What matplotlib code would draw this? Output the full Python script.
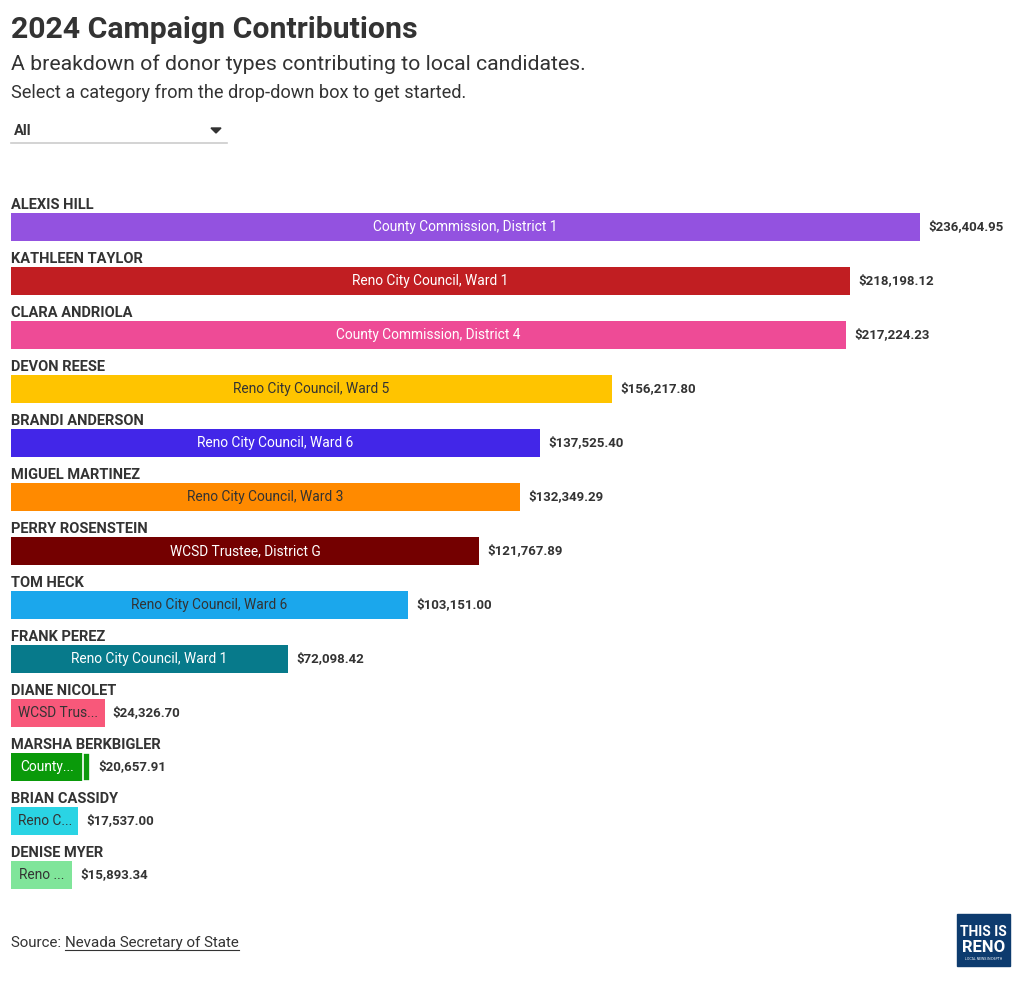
import matplotlib
matplotlib.use("Agg")
import matplotlib.pyplot as plt
from matplotlib.patches import Rectangle
from matplotlib.lines import Line2D

W, H = 1020, 981
FONT = "Roboto"
DARK = "#333333"

names = ["ALEXIS HILL", "KATHLEEN TAYLOR", "CLARA ANDRIOLA", "DEVON REESE",
         "BRANDI ANDERSON", "MIGUEL MARTINEZ", "PERRY ROSENSTEIN", "TOM HECK",
         "FRANK PEREZ", "DIANE NICOLET", "MARSHA BERKBIGLER", "BRIAN CASSIDY",
         "DENISE MYER"]
totals = [236404.95, 218198.12, 217224.23, 156217.80, 137525.40, 132349.29,
          121767.89, 103151.00, 72098.42, 24326.70, 20657.91, 17537.00, 15893.34]
second_segment = [0, 0, 0, 0, 0, 0, 0, 0, 0, 0, 2000.00, 0, 0]
races = ["County Commission, District 1", "Reno City Council, Ward 1",
         "County Commission, District 4", "Reno City Council, Ward 5",
         "Reno City Council, Ward 6", "Reno City Council, Ward 3",
         "WCSD Trustee, District G", "Reno City Council, Ward 6",
         "Reno City Council, Ward 1", "WCSD Trus...", "County...",
         "Reno C...", "Reno ..."]
colors = ["#9352E0", "#C11E22", "#EE4B96", "#FFC400", "#4226E8", "#FF8A00",
          "#740000", "#1BA7EC", "#077A8B", "#F8587A", "#0A9A0A", "#2AD4E4",
          "#80E59A"]
label_colors = ["white", "white", "white", "#333333", "white", "#333333",
                "white", "#333333", "white", "#333333", "white", "#333333",
                "#333333"]

fig = plt.figure(figsize=(W / 100, H / 100), dpi=100)
fig.patch.set_facecolor("white")


def ftext(x, y, s, **kw):
    return fig.text(x / W, 1 - y / H, s, family=FONT, **kw)


# Titles
ftext(11, 38, "2024 Campaign Contributions", fontsize=21.8, fontweight="bold",
      color=DARK, va="baseline")
ftext(11, 70, "A breakdown of donor types contributing to local candidates.",
      fontsize=15.3, color=DARK, va="baseline")
ftext(11, 98, "Select a category from the drop-down box to get started.",
      fontsize=13.1, color=DARK, va="baseline")

# Dropdown
ftext(14, 135, "All", fontsize=10.5, fontweight="bold", color=DARK, va="baseline")
fig.add_artist(Line2D([11 / W, 227 / W], [1 - 143 / H, 1 - 143 / H],
                      color="#cccccc", lw=1.2, transform=fig.transFigure))
tri = plt.Polygon([[211 / W, 1 - 128 / H], [221 / W, 1 - 128 / H],
                   [216 / W, 1 - 133 / H]], closed=True, color="#333333",
                  transform=fig.transFigure)
fig.add_artist(tri)

# Bars
px_per_dollar = 909 / totals[0]
ax_left, ax_right, ax_top, ax_bottom = 11, 1010, 190, 900
ax = fig.add_axes([ax_left / W, 1 - ax_bottom / H, (ax_right - ax_left) / W,
                   (ax_bottom - ax_top) / H])
ax.set_xlim(0, (ax_right - ax_left) / px_per_dollar)
row_px = 54
top_off = (227 - ax_top) / row_px
span = (ax_bottom - ax_top) / row_px
ax.set_ylim(-top_off + span, -top_off)
ax.axis("off")
bh = 28 / row_px

for i, (nm, tot, sec, race, c, lc) in enumerate(
        zip(names, totals, second_segment, races, colors, label_colors)):
    first = tot - sec
    ax.barh(i, first, height=bh, color=c, left=0)
    if sec > 0:
        ax.barh(i, sec, height=bh, color=c, left=first,
                edgecolor="white", linewidth=1.2)
    ax.annotate(nm, xy=(0, i - bh / 2), xytext=(0, 3.2), textcoords="offset points",
                ha="left", va="baseline", family=FONT, fontsize=10.5,
                fontweight="bold", color=DARK)
    ax.text(first / 2, i, race, ha="center", va="center", family=FONT,
            fontsize=9.9, color=lc)
    ax.annotate(f"${tot:,.2f}", xy=(tot, i), xytext=(6, 0),
                textcoords="offset points", ha="left", va="center",
                family=FONT, fontsize=9.5, fontweight="bold", color=DARK)

# Source
t1 = ftext(11, 947, "Source: ", fontsize=10.9, color=DARK, va="baseline")
fig.canvas.draw()
bb = t1.get_window_extent()
x2 = bb.x1
t2 = fig.text(x2 / W, 1 - 947 / H, "Nevada Secretary of State", family=FONT,
              fontsize=10.9, color=DARK, va="baseline")
fig.canvas.draw()
bb2 = t2.get_window_extent()
fig.add_artist(Line2D([bb2.x0 / W, bb2.x1 / W], [1 - 950 / H, 1 - 950 / H],
                      color=DARK, lw=0.8, transform=fig.transFigure))

# Logo
fig.add_artist(Rectangle((957 / W, 1 - 966 / H), 53 / W, 52 / H,
                         color="#0D3B6E", transform=fig.transFigure))
ftext(983.5, 932, "THIS IS", fontsize=10, fontweight="bold", color="white",
      ha="center", va="center")
ftext(983.5, 948, "RENO", fontsize=12, fontweight="bold", color="white",
      ha="center", va="center")
ftext(983.5, 959, "LOCAL NEWS IN DEPTH", fontsize=2.5, color="white",
      ha="center", va="center")

fig.savefig("out.png", dpi=100, facecolor="white")
